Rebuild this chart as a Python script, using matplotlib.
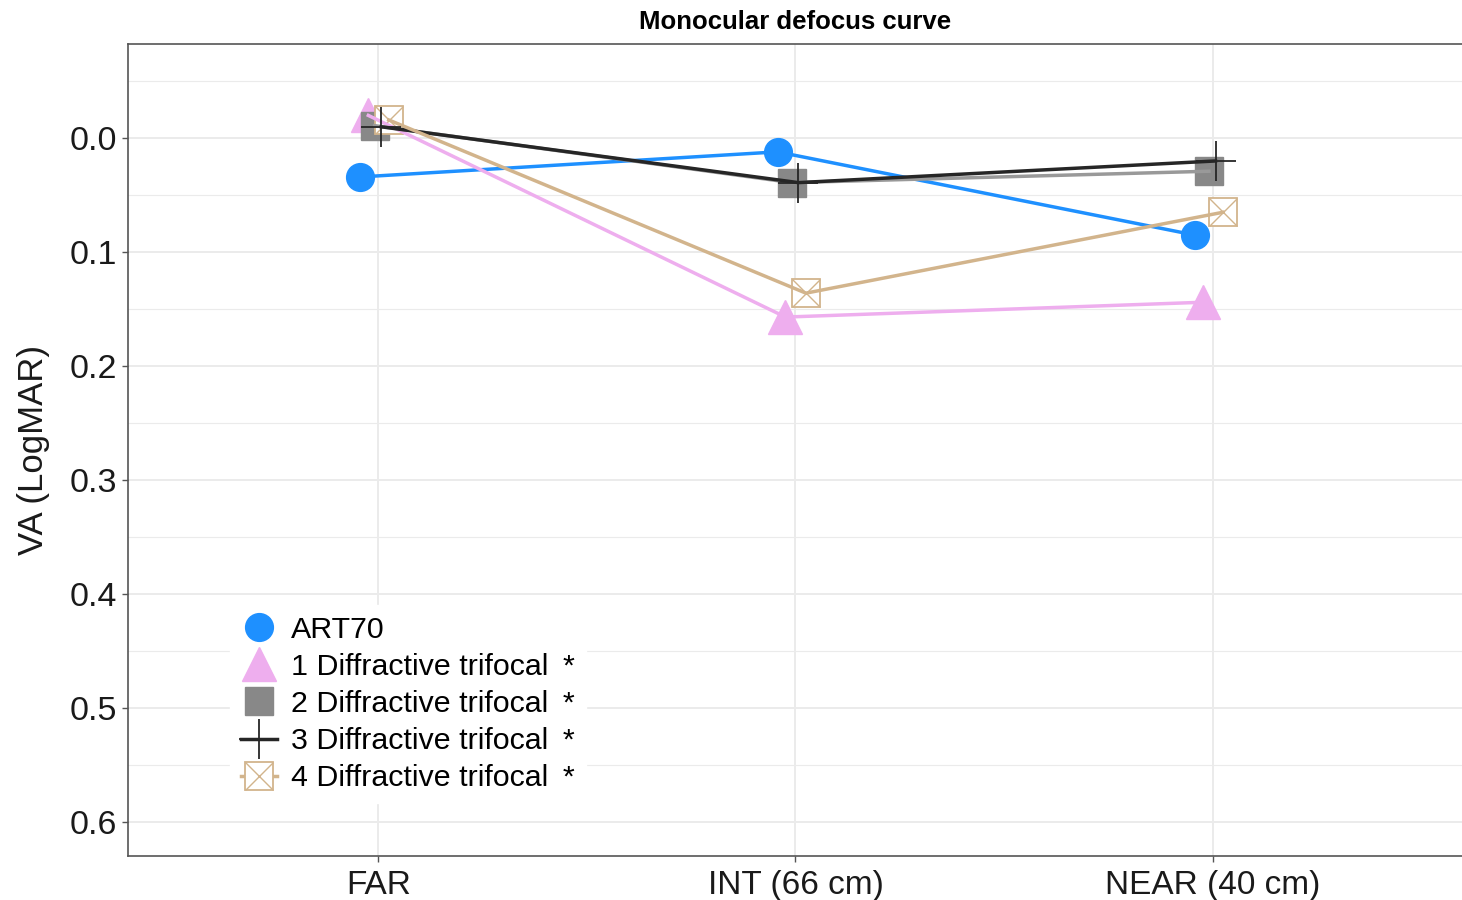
import matplotlib.pyplot as plt
from matplotlib.lines import Line2D

plt.rcParams['font.family'] = ['Liberation Sans', 'DejaVu Sans']

# Data
categories = ['FAR', 'INT (66 cm)', 'NEAR (40 cm)']
series = ['ART70', '1 Diffractive trifocal', '2 Diffractive trifocal',
          '3 Diffractive trifocal', '4 Diffractive trifocal']
art70 = [0.034, 0.012, 0.085]
trifocal_1 = [-0.020, 0.157, 0.144]
trifocal_2 = [-0.011, 0.039, 0.029]
trifocal_3 = [-0.010, 0.039, 0.020]
trifocal_4 = [-0.016, 0.136, 0.065]
values = [art70, trifocal_1, trifocal_2, trifocal_3, trifocal_4]

# Styles
colors = ['#1E90FF', '#EEAEEE', '#888888', '#262626', '#D2B48C']
line_colors = ['#1E90FF', '#EEAEEE', '#999999', '#262626', '#D2B48C']
dodge = [-0.043, -0.024, -0.009, 0.007, 0.025]

fig = plt.figure(figsize=(14.62, 9.0), dpi=100)
ax = fig.add_axes([0.0876, 0.0489, 0.913, 0.902])

xs = range(len(categories))
handles = []
for i, (name, vals) in enumerate(zip(series, values)):
    x = [k + 1 + dodge[i] for k in xs]
    c = colors[i]
    if i == 0:
        ax.plot(x, vals, 'o', ms=20, color=c, mec=c, zorder=3)
        h = Line2D([], [], marker='o', ms=20, color=c, lw=0)
    elif i == 1:
        ax.plot(x, vals, '^', ms=25, color=c, mec=c, zorder=3)
        h = Line2D([], [], marker='^', ms=25, color=c, lw=0)
    elif i == 2:
        ax.plot(x, vals, 's', ms=20, color=c, mec=c, zorder=3)
        h = Line2D([], [], marker='s', ms=20, color=c, lw=0)
    elif i == 3:
        ax.plot(x, vals, '+', ms=29, mew=1.3, color=c, zorder=5)
        h = Line2D([], [], marker='+', ms=29, mew=1.3, color=c, lw=2.5)
    else:
        ax.plot(x, vals, 's', ms=20, mfc='white', mec=c, mew=1.3, zorder=3)
        ax.plot(x, vals, 'x', ms=20, mec=c, mew=1.0, zorder=3)
        h = (Line2D([], [], marker='s', ms=20, mfc='white', mec=c, mew=1.3, color=c, lw=2.5),
             Line2D([], [], marker='x', ms=20, mec=c, mew=1.0, lw=0))
    ax.plot(x, vals, '-', lw=2.5, color=line_colors[i], zorder=4)
    handles.append(h)

ax.set_xlim(0.4, 3.6)
ax.set_ylim(0.63, -0.0825)
ax.set_xticks([1, 2, 3])
ax.set_xticklabels(categories)
ax.set_yticks([0.0, 0.1, 0.2, 0.3, 0.4, 0.5, 0.6])
ax.set_yticklabels(['0.0', '0.1', '0.2', '0.3', '0.4', '0.5', '0.6'])
ax.set_yticks([-0.05, 0.05, 0.15, 0.25, 0.35, 0.45, 0.55], minor=True)
ax.tick_params(axis='both', which='major', labelsize=24.5, color='#555555',
               length=4, width=1, labelcolor='#1a1a1a', pad=4)
ax.tick_params(axis='x', which='major', labelsize=24, pad=6)
ax.tick_params(axis='y', which='minor', length=0)
ax.grid(True, which='major', color='#EBEBEB', lw=1.4)
ax.grid(True, which='minor', axis='y', color='#EBEBEB', lw=0.8)
ax.set_axisbelow(True)
for s in ['left', 'bottom', 'top']:
    ax.spines[s].set_color('#555555')
    ax.spines[s].set_linewidth(1.2)
ax.spines['right'].set_color('#dddddd')

ax.set_ylabel('VA (LogMAR)', fontsize=25, color='#1a1a1a', labelpad=14)
ax.set_title('Monocular defocus curve', fontsize=18.5, fontweight='bold', pad=11)

labels = [series[0]] + [s + ' \u2009*' for s in series[1:]]
leg = ax.legend(handles, labels, loc='upper left', bbox_to_anchor=(0.0765, 0.309),
                borderaxespad=0, frameon=True, fancybox=False, fontsize=21.9,
                handlelength=1.2, handletextpad=0.45, labelspacing=0.30,
                borderpad=0.35)
leg.get_frame().set_facecolor('white')
leg.get_frame().set_edgecolor('white')
leg.get_frame().set_alpha(1)
leg.set_zorder(6)

fig.savefig('out.png', dpi=100)
